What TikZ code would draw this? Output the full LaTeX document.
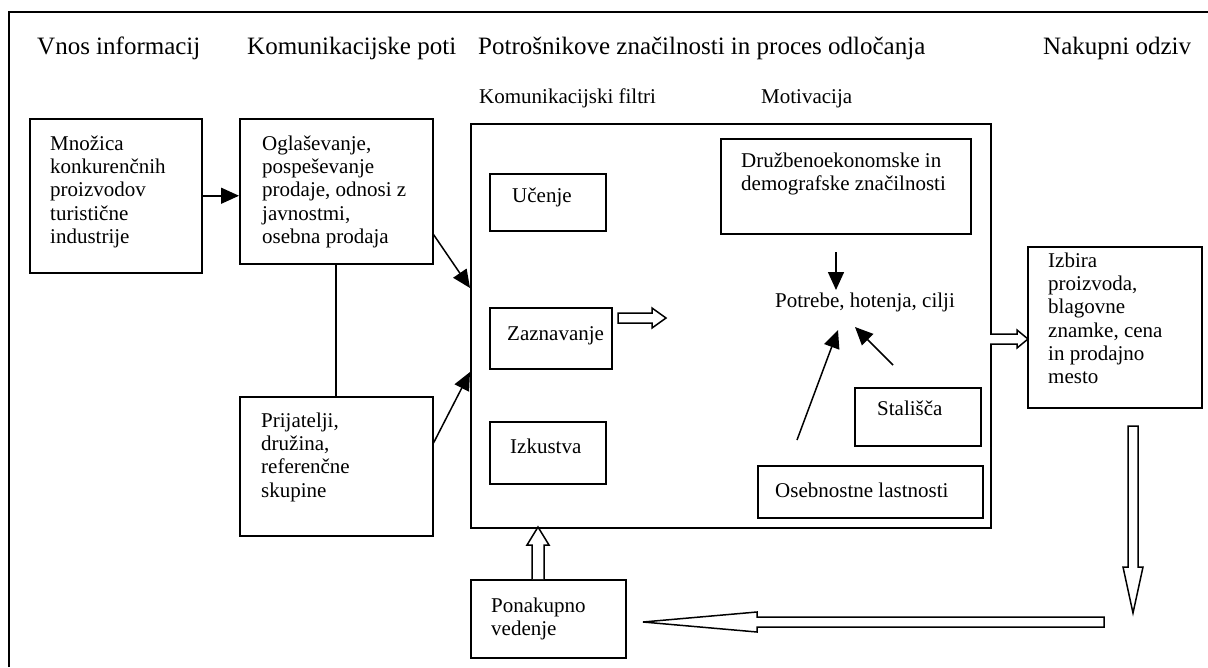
\documentclass[tikz,border=0pt]{standalone}
\usepackage{fontspec}
\setmainfont{Liberation Serif}
\usetikzlibrary{arrows.meta,calc}
\tikzset{
  box/.style={draw, line width=1.5pt, anchor=north west, inner sep=0pt},
  txt/.style={anchor=north west, inner sep=0pt, align=left, font=\fontsize{21}{23.3}\selectfont},
  head/.style={anchor=base west, inner sep=0pt, font=\fontsize{25}{28}\selectfont},
  sub/.style={anchor=base west, inner sep=0pt, font=\fontsize{21}{24}\selectfont},
  arr/.style={line width=1.5pt, -{Triangle[length=18pt,width=16pt]}},
  hollow/.style={draw, line width=1.5pt, fill=white, line join=miter},
  plain/.style={line width=1.5pt}
}
\newcommand{\fs}{\rule{0pt}{16pt}}
\begin{document}
\begin{tikzpicture}[x=1pt,y=-1pt]
\useasboundingbox (0,0) rectangle (1208,667);
% outer frame
\coordinate (fb) at (9,667);
\coordinate (ftl) at (9,12);
\coordinate (fr) at (1208,12);
\draw[line width=2pt] (fb) -- (ftl) -- (fr);

% headings
\node[head] (h1) at (37,54) {Vnos informacij};
\node[head] (h2) at (247,54) {Komunikacijske poti};
\node[head] (h3) at (478,54) {Potrošnikove značilnosti in proces odločanja};
\node[head] (h4) at (1043,54) {Nakupni odziv};
\node[sub] (s1) at (479,103) {Komunikacijski filtri};
\node[sub] (s2) at (761,103) {Motivacija};

% boxes
\node[box, minimum width=172pt, minimum height=154pt] (A) at (29,118) {};
\node[box, minimum width=193pt, minimum height=145pt] (B) at (239,118) {};
\node[box, minimum width=193pt, minimum height=139pt] (C) at (239,396) {};
\node[box, minimum width=520pt, minimum height=404pt] (F) at (470,123) {};
\node[box, minimum width=116pt, minimum height=57pt] (U) at (489,173) {};
\node[box, minimum width=122pt, minimum height=61pt] (Z) at (489,307) {};
\node[box, minimum width=116pt, minimum height=62pt] (I) at (489,421) {};
\node[box, minimum width=250pt, minimum height=95pt] (D) at (720,138) {};
\node[box, minimum width=126pt, minimum height=58pt] (S) at (854,387) {};
\node[box, minimum width=225pt, minimum height=52pt] (O) at (757,465) {};
\node[box, minimum width=174pt, minimum height=161pt] (Iz) at (1027,246) {};
\node[box, minimum width=155pt, minimum height=78pt] (P) at (470,579) {};

% texts
\node[txt] (At) at (50,134) {\fs Množica\\konkurenčnih\\proizvodov\\turistične\\industrije};
\node[txt] (Bt) at (262,134) {\fs Oglaševanje,\\pospeševanje\\prodaje, odnosi z\\javnostmi,\\osebna prodaja};
\node[txt] (Ct) at (261,411) {\fs Prijatelji,\\družina,\\referenčne\\skupine};
\node[txt] (Ut) at (512,186) {\fs Učenje};
\node[txt] (Zt) at (507,324) {\fs Zaznavanje};
\node[txt] (It) at (510,437) {\fs Izkustva};
\node[txt] (Dt) at (741,151) {\fs Družbenoekonomske in\\demografske značilnosti};
\node[txt] (St) at (877,399) {\fs Stališča};
\node[txt] (Ot) at (775,481) {\fs Osebnostne lastnosti};
\node[txt] (Izt) at (1048,251) {\fs Izbira\\proizvoda,\\blagovne\\znamke, cena\\in prodajno\\mesto};
\node[txt] (Pt) at (491,596) {\fs Ponakupno\\vedenje};
\node[txt] (pot) at (775,291) {\fs Potrebe, hotenja, cilji};

% connectors
\draw[arr] (A.east) -- (B.west |- A.east);
\draw[arr] ($(B.south east)+(0,-30)$) -- ($(F.north west)+(0,165)$);
\draw[arr] ($(C.north east)+(0,47)$) -- ($(F.north west)+(0,249)$);
\draw[plain] (B.south -| 336,0) -- (C.north -| 336,0);

\coordinate (d1) at (836,252);
\coordinate (d2) at (836,290);
\draw[arr] (d1) -- (d2);
\coordinate (o1) at ($(O.north west)+(40,-25)$);
\coordinate (o2) at (838,330);
\draw[arr] (o1) -- (o2);
\coordinate (st1) at (893,365);
\coordinate (st2) at (855,327);
\draw[arr] (st1) -- (st2);

% hollow arrows
\draw[hollow] (618,313) -- (652,313) -- (652,308) -- (666,318) -- (652,328) -- (652,323) -- (618,323) -- cycle;
\draw[hollow] (990,334) -- (1017,334) -- (1017,330) -- (1028,339) -- (1017,348) -- (1017,344) -- (990,344);
\draw[hollow] (1128,426) -- (1138,426) -- (1138,567) -- (1143,567) -- (1133,613) -- (1123,567) -- (1128,567) -- cycle;
\draw[hollow] (1104,617) -- (1104,627) -- (757,627) -- (757,632) -- (643,622) -- (757,612) -- (757,617) -- cycle;
\draw[hollow] (532,579) -- (532,545) -- (527,545) -- (538,527) -- (549,545) -- (544,545) -- (544,579);
\end{tikzpicture}
\end{document}
